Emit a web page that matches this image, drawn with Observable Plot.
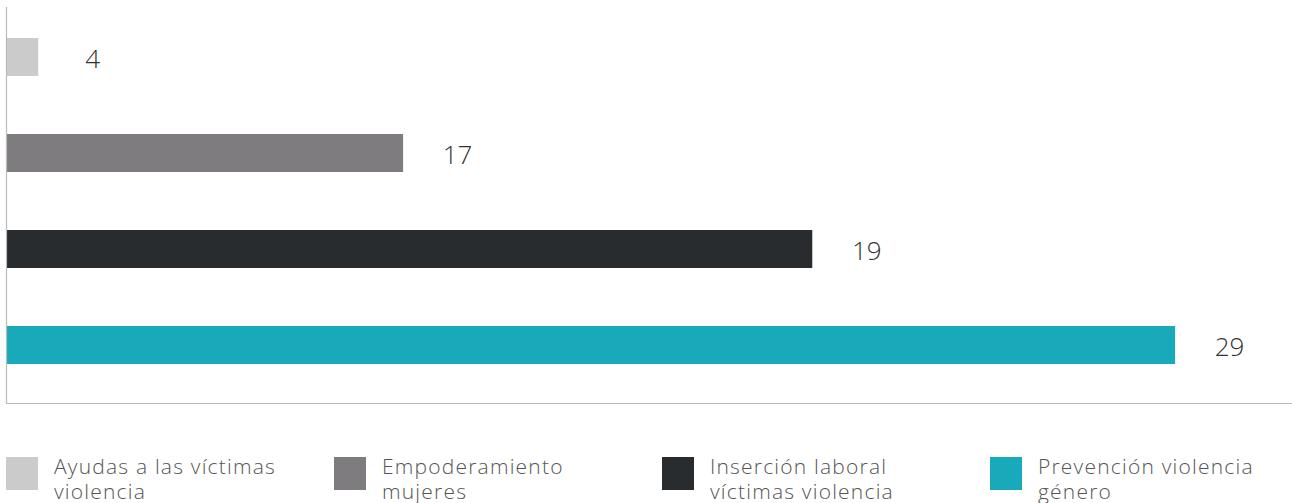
<!DOCTYPE html>
<html><head><meta charset="utf-8">
<script src="https://cdn.jsdelivr.net/npm/d3@7"></script>
<script src="https://cdn.jsdelivr.net/npm/@observablehq/plot@0.6"></script>
<style>
body{margin:0;background:#fff;font-family:"Open Sans",sans-serif;}
#chart{position:relative;width:1292px;height:503px;overflow:hidden}
#chart svg{display:block}
.legend{position:absolute;top:457px;left:0;width:1292px;height:46px}
.item{position:absolute;top:0;}
.sw{position:absolute;left:0;top:0;width:32px;height:33px}
.lab{position:absolute;left:48px;top:-3px;font-size:21px;letter-spacing:1.2px;line-height:25px;color:#555;font-weight:300;white-space:nowrap}
</style></head><body><div id="chart"></div>
<script>
const categories = ["Ayudas a las víctimas violencia", "Empoderamiento mujeres", "Inserción laboral víctimas violencia", "Prevención violencia género"];
const labels = [4, 17, 19, 29];
const barLengths = [0.8, 9.85, 20, 29];
const colors = ["#cbcbcb", "#7e7c7e", "#292c2f", "#18a9ba"];
const legendLines = [["Ayudas a las víctimas", "violencia"], ["Empoderamiento", "mujeres"], ["Inserción laboral", "víctimas violencia"], ["Prevención violencia", "género"]];

const data = categories.map((c, i) => ({cat: c, label: labels[i], len: barLengths[i]}));

const plot = Plot.plot({
  width: 1292, height: 410,
  marginLeft: 6, marginRight: 0, marginTop: 7, marginBottom: 7,
  style: {fontFamily: "Open Sans", background: "#fff"},
  x: {domain: [0, 31.9], axis: null},
  y: {domain: categories, axis: null, paddingInner: 0.6, paddingOuter: 0.36, align: 0.45},
  color: {domain: categories, range: colors},
  marks: [
    Plot.barX(data, {x: "len", y: "cat", fill: "cat"}),
    Plot.text(data, {x: "len", y: "cat", text: d => String(d.label), dx: 54, dy: 2, fontSize: 26, fontWeight: 300, fill: "#333", textAnchor: "middle", fontFamily: "Open Sans", letterSpacing: 0.5}),
    Plot.ruleX([0], {stroke: "#bbb", strokeWidth: 1.2}),
    Plot.frame({anchor: "bottom", stroke: "#bbb", strokeWidth: 1.2})
  ]
});
const chart = document.getElementById("chart");
chart.appendChild(plot);

const legend = document.createElement("div");
legend.className = "legend";
categories.forEach((c, i) => {
  const item = document.createElement("div");
  item.className = "item";
  item.style.left = (6 + i * 328) + "px";
  const sw = document.createElement("div");
  sw.className = "sw";
  sw.style.background = colors[i];
  const lab = document.createElement("div");
  lab.className = "lab";
  lab.innerHTML = legendLines[i].join("<br>");
  item.appendChild(sw); item.appendChild(lab);
  legend.appendChild(item);
});
chart.appendChild(legend);
</script></body></html>
